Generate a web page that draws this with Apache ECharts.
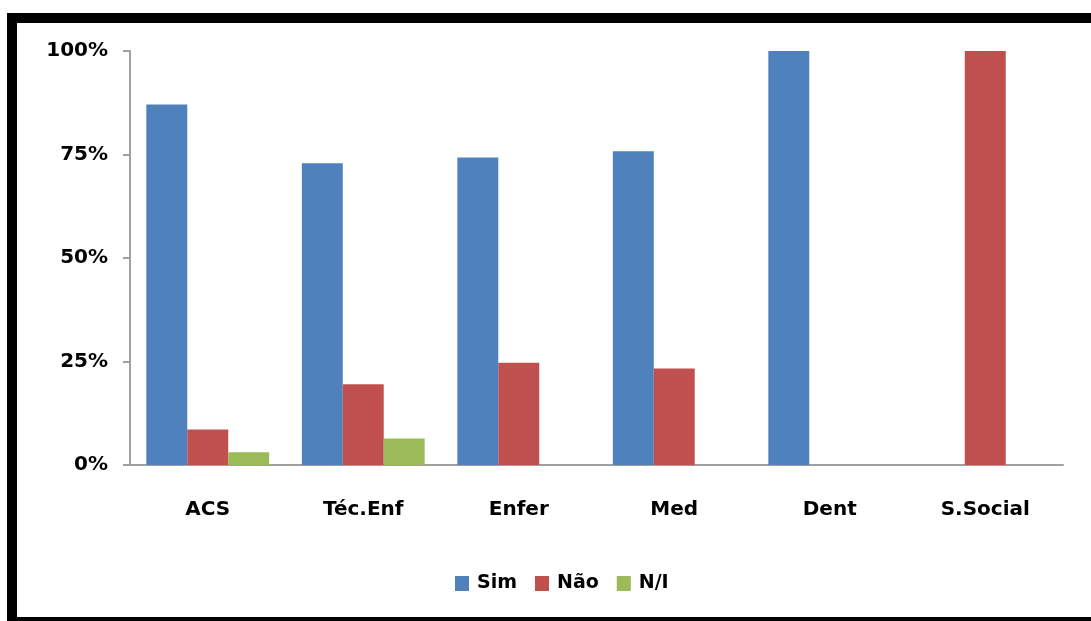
<!DOCTYPE html>
<html>
<head>
<meta charset="utf-8">
<script src="https://cdn.jsdelivr.net/npm/echarts@6/dist/echarts.min.js"></script>
<style>
html,body{margin:0;padding:0;background:#fff;}
#chart{width:1091px;height:621px;}
</style>
</head>
<body>
<div id="chart"></div>
<script>
const categories = ['ACS', 'Téc.Enf', 'Enfer', 'Med', 'Dent', 'S.Social'];
const seriesNames = ['Sim', 'Não', 'N/I'];
const simValues = [87.1, 72.9, 74.3, 75.8, 100, 0];
const naoValues = [8.6, 19.5, 24.7, 23.3, 0, 100];
const niValues = [3.1, 6.4, 0, 0, 0, 0];
const yTicks = [0, 25, 50, 75, 100];
const colors = ['#4F81BD', '#C0504D', '#9BBB59'];

const font = 'DejaVu Sans';
const chart = echarts.init(document.getElementById('chart'), null, {renderer: 'canvas'});
const dataSets = [simValues, naoValues, niValues];
chart.setOption({
  animation: false,
  backgroundColor: '#ffffff',
  graphic: [{
    type: 'rect',
    shape: {x: 12, y: 18, width: 1100, height: 604},
    style: {fill: 'none', stroke: '#000000', lineWidth: 10},
    z: 100
  }],
  grid: {left: 130, right: 28, top: 51, bottom: 156},
  legend: {
    data: seriesNames,
    left: 450,
    top: 569,
    itemWidth: 14,
    itemHeight: 15,
    itemGap: 18,
    icon: 'rect',
    textStyle: {fontFamily: font, fontWeight: 'bold', fontSize: 19, color: '#000', padding: [0, 0, 0, 3]}
  },
  xAxis: {
    type: 'category',
    data: categories,
    axisLine: {lineStyle: {color: '#a0a0a0', width: 2}},
    axisTick: {show: false},
    axisLabel: {fontFamily: font, fontWeight: 'bold', fontSize: 20, color: '#000', margin: 35}
  },
  yAxis: {
    type: 'value',
    min: yTicks[0],
    max: yTicks[yTicks.length - 1],
    interval: yTicks[1] - yTicks[0],
    axisLine: {show: true, lineStyle: {color: '#a0a0a0', width: 2}},
    axisTick: {show: true, length: 7, lineStyle: {color: '#a0a0a0', width: 2}},
    splitLine: {show: false},
    axisLabel: {fontFamily: font, fontWeight: 'bold', fontSize: 20, color: '#000', margin: 22, padding: [8, 0, 0, 0], formatter: '{value}%'}
  },
  series: seriesNames.map((name, i) => ({
    name: name,
    type: 'bar',
    data: dataSets[i],
    barGap: '0%',
    barCategoryGap: '21%',
    itemStyle: {color: colors[i]}
  }))
});
</script>
</body>
</html>
